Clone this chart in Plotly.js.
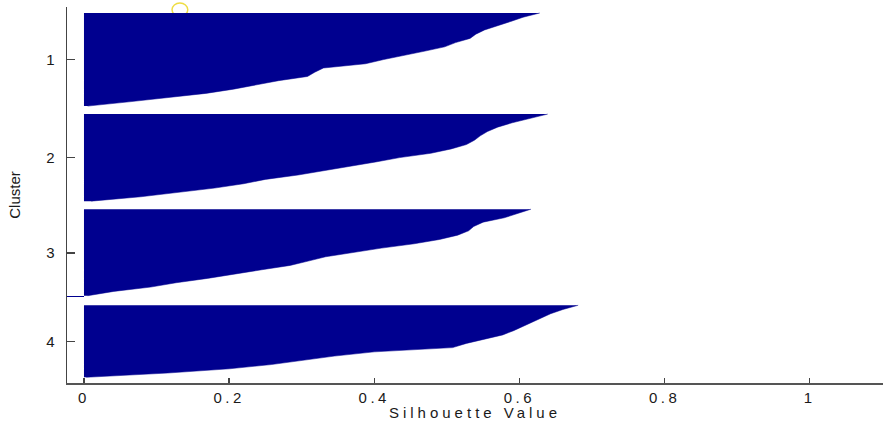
<!DOCTYPE html>
<html>
<head>
<meta charset="utf-8">
<script src="https://cdn.plot.ly/plotly-3.0.1.min.js"></script>
<style>
  html, body { margin: 0; padding: 0; background: #fff; }
  #chart { width: 886px; height: 421px; }
  .xtick text { letter-spacing: 3.5px; }
  .xtitle { letter-spacing: 4px; }
</style>
</head>
<body>
<div id="chart"></div>
<script>
// Silhouette values, sorted largest -> smallest within each cluster
const clusterLabels = ['1', '2', '3', '4'];
const clusterSizes = [93, 87, 88, 72];   // estimated number of points per cluster
const cluster1 = [0.628, 0.605, 0.588, 0.570, 0.552, 0.540, 0.532, 0.512, 0.497, 0.470,
                  0.440, 0.413, 0.388, 0.330, 0.318, 0.308, 0.268, 0.236, 0.206, 0.168,
                  0.119, 0.062, 0.005];
const cluster2 = [0.639, 0.614, 0.590, 0.570, 0.556, 0.546, 0.538, 0.527, 0.506, 0.478,
                  0.435, 0.402, 0.365, 0.330, 0.295, 0.250, 0.220, 0.180, 0.129, 0.078,
                  0.010];
const cluster3 = [0.616, 0.598, 0.579, 0.550, 0.537, 0.530, 0.515, 0.490, 0.455, 0.410,
                  0.368, 0.333, 0.309, 0.284, 0.245, 0.208, 0.170, 0.127, 0.092, 0.041,
                  0.005, -0.040];
const cluster4 = [0.681, 0.660, 0.643, 0.630, 0.618, 0.606, 0.592, 0.577, 0.550, 0.527,
                  0.508, 0.400, 0.345, 0.298, 0.258, 0.200, 0.115, 0.003];
const xTickVals = [0, 0.2, 0.4, 0.6, 0.8, 1];
const xTickText = ['0', '0.2', '0.4', '0.6', '0.8', '1'];

const clusters = [cluster1, cluster2, cluster3, cluster4];
const GAP = 8;
const BAR_COLOR = '#00008F';

const traces = [];
const tickVals = [];
let start = 0;
clusters.forEach((vals, k) => {
  const size = clusterSizes[k];
  const pos = vals.filter(v => v >= 0);
  const neg = vals.filter(v => v < 0);
  const posSpan = size - (neg.length ? 1.5 * neg.length : 0);
  const ys = pos.map((v, i) => start + i * posSpan / (pos.length - 1));
  traces.push({
    type: 'scatter', mode: 'lines',
    x: pos, y: ys,
    fill: 'tozerox', fillcolor: BAR_COLOR,
    line: { color: BAR_COLOR, width: 0.5 },
    hoverinfo: 'skip', showlegend: false
  });
  if (neg.length) {
    traces.push({
      type: 'bar', orientation: 'h',
      x: neg, y: neg.map((v, i) => start + posSpan + 1 + i * 1.5),
      width: 1.2, marker: { color: BAR_COLOR, line: { width: 0 } },
      hoverinfo: 'skip', showlegend: false
    });
  }
  tickVals.push(start + size / 2);
  start += size + GAP;
});

const font = { family: 'Liberation Sans, Arial, Helvetica, sans-serif', size: 15, color: '#1a1a1a' };

const layout = {
  width: 886, height: 421,
  margin: { l: 67, r: 3, t: 7, b: 38, pad: 0 },
  paper_bgcolor: '#fff', plot_bgcolor: '#fff',
  font: font,
  showlegend: false,
  hovermode: false,
  bargap: 0,
  xaxis: {
    range: [-0.0234, 1.101],
    tickvals: xTickVals, ticktext: xTickText,
    ticks: 'inside', ticklen: 5, tickwidth: 1.5, tickcolor: '#444',
    showline: true, linecolor: '#555', linewidth: 1.5,
    showgrid: false, zeroline: false,
    layer: 'below traces',
    tickfont: font,
    ticklabelstandoff: 0,
    automargin: false,
    title: { text: 'Silhouette Value', font: font, standoff: 4 }
  },
  yaxis: {
    range: [369.7, -6],
    tickvals: tickVals, ticktext: clusterLabels,
    ticks: 'inside', ticklen: 8, tickwidth: 1.5, tickcolor: '#444',
    showline: true, linecolor: '#444', linewidth: 1.5,
    showgrid: false, zeroline: false,
    layer: 'below traces',
    tickfont: font,
    ticklabelstandoff: 8,
    automargin: false,
    title: { text: 'Cluster', font: { family: font.family, size: 15, color: '#1a1a1a' }, standoff: 22 }
  },
  shapes: [{
    type: 'circle', xref: 'paper', yref: 'paper', layer: 'below',
    x0: 0.1287, x1: 0.148, y0: 0.975, y1: 1.0106,
    line: { color: '#EEDD44', width: 1.5 }
  }]
};

Plotly.newPlot('chart', traces, layout, { displayModeBar: false, staticPlot: true });
</script>
</body>
</html>
